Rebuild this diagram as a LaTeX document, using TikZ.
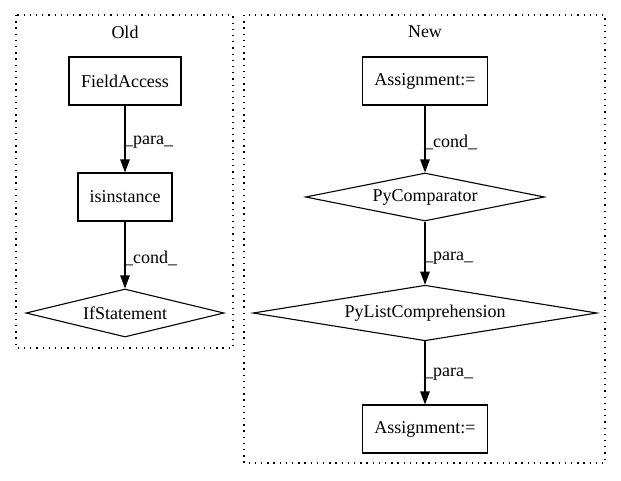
\documentclass[tikz,border=0pt]{standalone}
\usepackage{fontspec}
\setmainfont{Liberation Serif}
\usetikzlibrary{arrows.meta,shapes.geometric}
\newcommand{\gvfont}{\fontsize{18pt}{21pt}\selectfont}
\begin{document}
\begin{tikzpicture}[x=1pt,y=-1pt,
  every node/.style={font=\gvfont, inner sep=0pt},
  cluster/.style={draw, line width=1.1pt, dash pattern=on 1.3pt off 4.9pt},
  box/.style={draw, line width=1.1pt, rectangle, font=\gvfont},
  dia/.style={draw, line width=1.1pt, diamond, aspect=4.1, font=\gvfont},
  edge/.style={draw, line width=1.1pt, -{Triangle[length=13pt,width=9.5pt]}},
  elabel/.style={anchor=west, font=\gvfont}
]
\useasboundingbox (0,0) rectangle (621,480);
% clusters
\draw[cluster] (16,15) rectangle (233,348);
\node[font=\gvfont] (oldt) at (125,32) {Old};
\draw[cluster] (244,15) rectangle (605,463);
\node[font=\gvfont] (newt) at (425,32) {New};
% old nodes
\node[box, minimum width=112pt, minimum height=48pt] (fa) at (125,81) {FieldAccess};
\node[box, minimum width=94pt, minimum height=48pt] (isi) at (125,197) {isinstance};
\node[dia, minimum width=198pt, minimum height=48pt] (ifs) at (125,313) {IfStatement};
% new nodes
\node[box, minimum width=125pt, minimum height=48pt] (a1) at (425,81) {Assignment:=};
\node[dia, minimum width=239pt, minimum height=48pt] (pc) at (425,197) {PyComparator};
\node[dia, minimum width=344pt, minimum height=48pt] (plc) at (425,313) {PyListComprehension};
\node[box, minimum width=125pt, minimum height=48pt] (a2) at (425,429) {Assignment:=};
% edges
\draw[edge] (fa) -- (isi);
\draw[edge] (isi) -- (ifs);
\draw[edge] (a1) -- (pc);
\draw[edge] (pc) -- (plc);
\draw[edge] (plc) -- (a2);
% labels
\node[elabel] (l1) at (124,142) {\_para\_};
\node[elabel] (l2) at (124,258) {\_cond\_};
\node[elabel] (l3) at (424,142) {\_cond\_};
\node[elabel] (l4) at (424,258) {\_para\_};
\node[elabel] (l5) at (424,374) {\_para\_};
\end{tikzpicture}
\end{document}
